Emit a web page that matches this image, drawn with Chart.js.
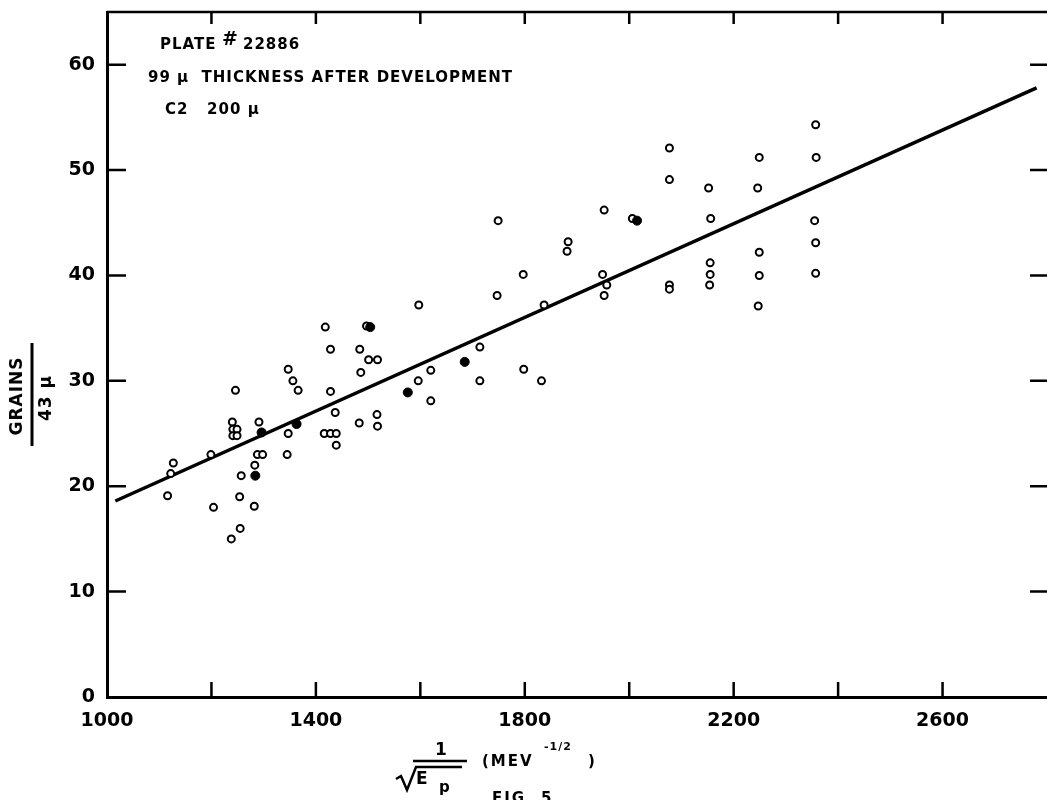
<!DOCTYPE html>
<html>
<head>
<meta charset="utf-8">
<script src="https://cdn.jsdelivr.net/npm/chart.js@4.4.0/dist/chart.umd.min.js"></script>
<style>
  html, body { margin: 0; padding: 0; background: #fff; }
  canvas { display: block; }
</style>
</head>
<body>
<canvas id="chart" width="1047" height="800"></canvas>
<script>
// axis ticks
const xTickLabels = [1000, 1400, 1800, 2200, 2600];
const xTickMarks = [1200, 1400, 1600, 1800, 2000, 2200, 2400, 2600];
const yTickMarks = [10, 20, 30, 40, 50, 60];

// open circles (1/sqrt(Ep), grains per 43 micron)
const openX = [1116, 1122, 1127, 1199, 1204, 1238, 1255, 1254, 1257, 1246, 1240,
  1241, 1249, 1241, 1249, 1291, 1283, 1282, 1288, 1298,
  1347, 1356, 1366, 1347, 1345,
  1418, 1428, 1428, 1437, 1416, 1428, 1439, 1439, 1497,
  1484, 1501, 1518, 1486, 1483, 1517, 1518,
  1596, 1620, 1620, 1597, 1714, 1714, 1749, 1747,
  1797, 1798, 1832, 1837, 1883, 1881,
  1952, 1949, 1957, 1952, 2006,
  2077, 2077, 2077, 2077,
  2152, 2156, 2155, 2155, 2154,
  2249, 2246, 2249, 2249, 2247,
  2357, 2358, 2355, 2357, 2357];
const openY = [19.1, 21.2, 22.2, 23.0, 18.0, 15.0, 16.0, 19.0, 21.0, 29.1, 26.1,
  25.4, 25.4, 24.8, 24.8, 26.1, 22.0, 18.1, 23.0, 23.0,
  31.1, 30.0, 29.1, 25.0, 23.0,
  35.1, 33.0, 29.0, 27.0, 25.0, 25.0, 25.0, 23.9, 35.2,
  33.0, 32.0, 32.0, 30.8, 26.0, 26.8, 25.7,
  30.0, 31.0, 28.1, 37.2, 33.2, 30.0, 45.2, 38.1,
  40.1, 31.1, 30.0, 37.2, 43.2, 42.3,
  46.2, 40.1, 39.1, 38.1, 45.4,
  52.1, 49.1, 39.1, 38.7,
  48.3, 45.4, 41.2, 40.1, 39.1,
  51.2, 48.3, 42.2, 40.0, 37.1,
  54.3, 51.2, 45.2, 43.1, 40.2];

// filled dots
const fullX = [1284, 1296, 1363, 1504, 1576, 1685, 2015];
const fullY = [21.0, 25.1, 25.9, 35.1, 28.9, 31.8, 45.2];

// fitted straight line
const fitX = [1016, 2780];
const fitY = [18.6, 57.8];

const FONT = 'DejaVu Sans';

const paperFrame = {
  id: 'paperFrame',
  afterDraw(chart) {
    const ctx = chart.ctx;
    const a = chart.chartArea;
    const sx = chart.scales.x;
    const sy = chart.scales.y;
    ctx.save();
    ctx.strokeStyle = '#000';
    ctx.fillStyle = '#000';
    ctx.lineCap = 'butt';

    // top frame (right edge runs off the scan)
    ctx.lineWidth = 2.5;
    ctx.beginPath();
    ctx.moveTo(a.left, a.top);
    ctx.lineTo(a.right, a.top);
    ctx.stroke();

    // inward tick marks
    ctx.lineWidth = 2.5;
    xTickMarks.forEach(v => {
      const px = sx.getPixelForValue(v);
      ctx.beginPath();
      ctx.moveTo(px, a.bottom); ctx.lineTo(px, a.bottom - 15);
      ctx.moveTo(px, a.top); ctx.lineTo(px, a.top + 12);
      ctx.stroke();
    });
    yTickMarks.forEach(v => {
      const py = sy.getPixelForValue(v);
      ctx.beginPath();
      ctx.moveTo(a.left, py); ctx.lineTo(a.left + 19, py);
      ctx.moveTo(a.right, py); ctx.lineTo(a.right - 17, py);
      ctx.stroke();
    });

    // notes in the plot
    ctx.textAlign = 'left';
    ctx.textBaseline = 'middle';
    ctx.font = 'bold 15px ' + FONT;
    ctx.letterSpacing = '1px';
    ctx.fillText('PLATE', 160, 45);
    ctx.font = 'bold 19px ' + FONT;
    ctx.fillText('#', 222, 40);
    ctx.font = 'bold 15px ' + FONT;
    ctx.fillText('22886', 243, 45);
    ctx.fillText('99 μ  THICKNESS AFTER DEVELOPMENT', 148, 78);
    ctx.fillText('C2   200 μ', 165, 110);

    // y title: GRAINS / 43 μ
    ctx.letterSpacing = '1px';
    ctx.font = 'bold 17px ' + FONT;
    ctx.textAlign = 'center';
    ctx.save();
    ctx.translate(18, 396);
    ctx.rotate(-Math.PI / 2);
    ctx.fillText('GRAINS', 0, 0);
    ctx.restore();
    ctx.save();
    ctx.translate(47, 398);
    ctx.rotate(-Math.PI / 2);
    ctx.fillText('43 μ', 0, 0);
    ctx.restore();
    ctx.lineWidth = 3;
    ctx.beginPath();
    ctx.moveTo(32, 343); ctx.lineTo(32, 446);
    ctx.stroke();

    // x title: 1 / sqrt(Ep)  (MEV^-1/2)
    ctx.letterSpacing = '0px';
    ctx.font = 'bold 17px ' + FONT;
    ctx.fillText('1', 441, 751);
    ctx.lineWidth = 2.5;
    ctx.beginPath();
    ctx.moveTo(413, 761); ctx.lineTo(467, 761);
    ctx.stroke();
    ctx.beginPath();
    ctx.moveTo(396, 779); ctx.lineTo(401, 776); ctx.lineTo(407, 790);
    ctx.lineTo(416, 767); ctx.lineTo(462, 767);
    ctx.stroke();
    ctx.textAlign = 'left';
    ctx.fillText('E', 416, 780);
    ctx.font = 'bold 15px ' + FONT;
    ctx.fillText('p', 439, 788);
    ctx.letterSpacing = '2px';
    ctx.font = 'bold 15px ' + FONT;
    ctx.fillText('(MEV', 482, 762);
    ctx.font = 'bold 11px ' + FONT;
    ctx.letterSpacing = '1px';
    ctx.fillText('-1/2', 544, 747);
    ctx.font = 'bold 15px ' + FONT;
    ctx.fillText(')', 588, 762);
    ctx.textBaseline = 'top';
    ctx.letterSpacing = '2px';
    ctx.fillText('FIG. 5', 492, 792);
    ctx.restore();
  }
};

const ctx = document.getElementById('chart').getContext('2d');

new Chart(ctx, {
  type: 'scatter',
  data: {
    datasets: [
      {
        label: 'fit',
        data: fitX.map((x, i) => ({ x: x, y: fitY[i] })),
        showLine: true,
        borderColor: '#000',
        borderWidth: 3.5,
        pointRadius: 0,
        order: 3
      },
      {
        label: 'open',
        data: openX.map((x, i) => ({ x: x, y: openY[i] })),
        pointStyle: 'circle',
        pointRadius: 3.5,
        borderWidth: 2,
        borderColor: '#000',
        backgroundColor: '#fff',
        order: 2
      },
      {
        label: 'filled',
        data: fullX.map((x, i) => ({ x: x, y: fullY[i] })),
        pointStyle: 'circle',
        pointRadius: 4.5,
        borderWidth: 1,
        borderColor: '#000',
        backgroundColor: '#000',
        order: 1
      }
    ]
  },
  options: {
    responsive: false,
    devicePixelRatio: 1,
    animation: false,
    layout: { autoPadding: false, padding: { top: 12, right: 0, left: 0, bottom: 0 } },
    plugins: {
      legend: { display: false },
      tooltip: { enabled: false }
    },
    scales: {
      x: {
        type: 'linear',
        min: 1000,
        max: 2800,
        grid: { drawOnChartArea: false, drawTicks: false },
        border: { display: true, color: '#000', width: 3 },
        ticks: {
          stepSize: 200,
          autoSkip: false,
          maxRotation: 0,
          padding: 13,
          color: '#000',
          font: { family: FONT, size: 19, weight: 'bold' },
          callback: v => xTickLabels.includes(v) ? String(v) : ''
        },
        afterFit: scale => {
          scale.height = 103;
          scale.paddingLeft = 0;
          scale.paddingRight = 0;
        }
      },
      y: {
        min: 0,
        max: 65,
        grid: { drawOnChartArea: false, drawTicks: false },
        border: { display: true, color: '#000', width: 3 },
        ticks: {
          stepSize: 10,
          padding: 12,
          color: '#000',
          font: { family: FONT, size: 19, weight: 'bold' },
          callback: v => (v % 10 === 0) ? String(v) : ''
        },
        afterFit: scale => {
          scale.width = 107;
          scale.paddingTop = 0;
          scale.paddingBottom = 0;
        }
      }
    }
  },
  plugins: [paperFrame]
});
</script>
</body>
</html>
